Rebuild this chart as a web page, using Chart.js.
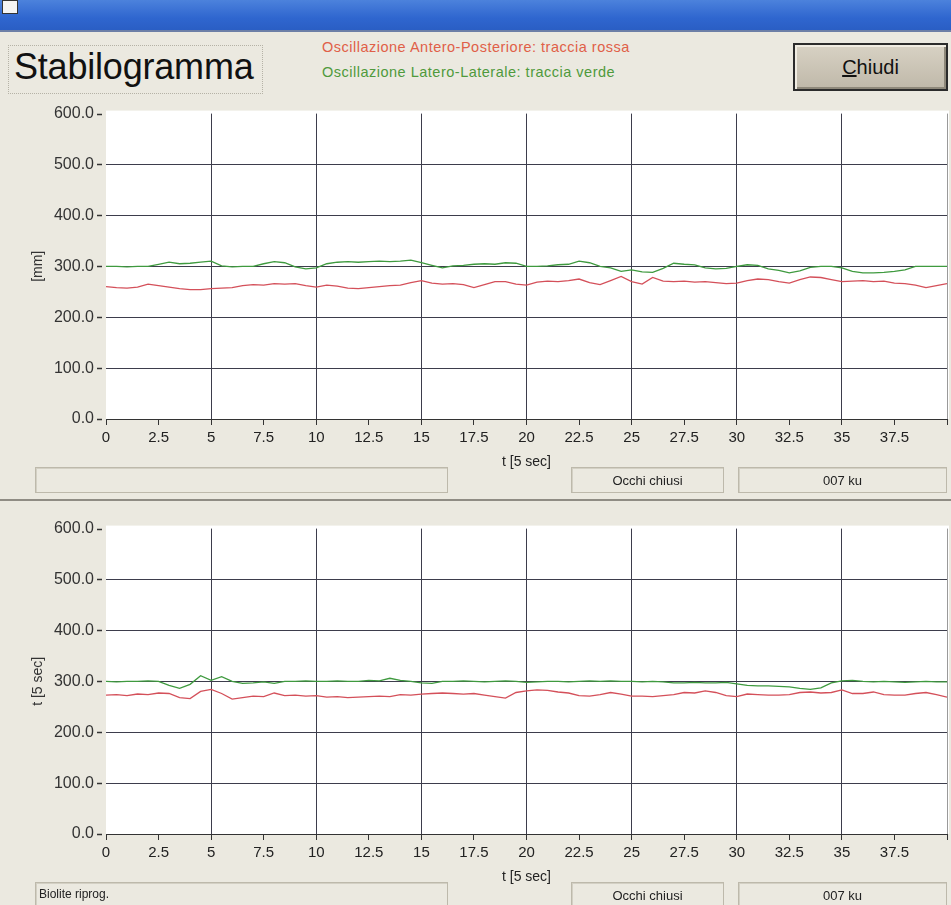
<!DOCTYPE html>
<html>
<head>
<meta charset="utf-8">
<script src="https://cdn.jsdelivr.net/npm/chart.js@4.4.1/dist/chart.umd.min.js"></script>
<style>
  html, body { margin:0; padding:0; }
  body { width:951px; height:905px; position:relative; overflow:hidden;
         background:#ebe9e0; font-family:"Liberation Sans", Arial, sans-serif; }
  .titlebar { position:absolute; left:0; top:0; width:951px; height:30px;
              background:linear-gradient(#4c82dc, #2f66cf 60%, #2a5ec4); border-bottom:2px solid #6d7fa6; }
  .icon { position:absolute; left:2px; top:0; width:14px; height:12px; background:#f4f4f4; border:1px solid #333; }
  .abs { position:absolute; }
  .titlebox { left:8px; top:45px; width:253px; height:47px; border:1px dotted #b5b2a6; }
  .titletext { left:14px; top:46px; font-size:36px; color:#111; letter-spacing:-0.2px; }
  .leg1 { left:322px; top:39px; font-size:14.5px; letter-spacing:0.5px; color:#e06048; }
  .leg2 { left:322px; top:64px; font-size:14.5px; letter-spacing:0.5px; color:#4f9a3c; }
  .btn { left:793px; top:43px; width:151px; height:44px; border:2px solid #2b2b2b;
         background:linear-gradient(#d8d2c4, #bfb8a9); box-shadow: inset 2px 2px 0 #f0ece2, inset -2px -2px 0 #8e887a;
         font-size:20px; color:#111; text-align:center; line-height:44px; }
  .box { border:1px solid #bdb9ab; box-shadow: inset 1px 1px 0 #d3d0c4; font-size:13px; color:#222;
         text-align:center; box-sizing:border-box; }
  .sep { left:0; top:499px; width:951px; height:2px; background:#8f8c84; }
  canvas { position:absolute; }
</style>
</head>
<body>
<div class="titlebar"></div>
<div class="icon"></div>
<div class="abs titlebox"></div>
<div class="abs titletext">Stabilogramma</div>
<div class="abs leg1">Oscillazione Antero-Posteriore: traccia rossa</div>
<div class="abs leg2">Oscillazione Latero-Laterale: traccia verde</div>
<div class="abs btn"><u>C</u>hiudi</div>

<canvas id="c1" width="951" height="382" style="left:0;top:92px;width:951px;height:382px"></canvas>
<canvas id="c2" width="951" height="382" style="left:0;top:507px;width:951px;height:382px"></canvas>

<div class="abs box" style="left:35px;top:467px;width:413px;height:26px;"></div>
<div class="abs box" style="left:571px;top:467px;width:153px;height:26px;line-height:26px;">Occhi chiusi</div>
<div class="abs box" style="left:738px;top:467px;width:209px;height:26px;line-height:26px;">007 ku</div>
<div class="abs sep"></div>
<div class="abs box" style="left:35px;top:882px;width:413px;height:26px;line-height:22px;text-align:left;padding-left:3px;font-size:12px;">Biolite riprog.</div>
<div class="abs box" style="left:571px;top:882px;width:153px;height:26px;line-height:26px;">Occhi chiusi</div>
<div class="abs box" style="left:738px;top:882px;width:209px;height:26px;line-height:26px;">007 ku</div>

<script>
const times = [0,0.5,1,1.5,2,2.5,3,3.5,4,4.5,5,5.5,6,6.5,7,7.5,8,8.5,9,9.5,10,10.5,11,11.5,12,12.5,13,13.5,14,14.5,15,15.5,16,16.5,17,17.5,18,18.5,19,19.5,20,20.5,21,21.5,22,22.5,23,23.5,24,24.5,25,25.5,26,26.5,27,27.5,28,28.5,29,29.5,30,30.5,31,31.5,32,32.5,33,33.5,34,34.5,35,35.5,36,36.5,37,37.5,38,38.5,39,39.5,40];

const topRed = [260,258,257,259,265,262,259,256,254,254,256,257,258,262,264,263,266,265,266,262,259,263,261,257,256,258,260,262,263,268,272,267,265,266,264,258,264,270,270,265,263,269,271,270,272,275,268,264,272,280,270,265,278,271,270,271,269,270,268,266,267,272,275,274,270,267,274,279,278,274,270,271,272,270,271,267,266,263,258,262,266];

const topGreen = [300,300,299,300,300,304,308,305,306,308,310,301,299,300,300,305,309,307,299,295,297,305,308,309,308,309,310,309,310,312,307,302,297,301,302,304,305,304,307,306,300,300,301,303,304,310,307,300,297,290,293,289,288,296,306,304,303,297,295,296,300,303,302,295,292,287,291,298,300,300,297,290,287,287,288,290,293,300,300,300,300];

const bottomRed = [273,274,272,275,274,277,276,268,266,280,284,276,265,268,271,270,277,272,273,271,272,269,270,268,269,270,271,270,274,273,275,276,277,276,275,276,273,270,267,278,281,283,282,279,277,272,271,274,278,275,271,271,270,272,274,278,277,281,278,272,270,275,274,273,273,274,278,279,277,278,283,276,276,279,274,273,273,276,278,274,269];

const bottomGreen = [300,299,300,300,301,300,292,286,294,311,302,309,300,296,297,299,296,300,300,301,300,300,301,300,300,302,301,306,302,300,297,296,300,300,301,300,299,300,301,300,298,299,300,300,299,300,301,300,301,300,300,299,300,299,297,297,298,297,297,298,295,292,291,291,290,289,286,284,287,297,301,302,300,299,300,299,298,299,300,299,299];

const yMin = 0, yMax = 600, yStep = 100;
const xMin = 0, xMax = 40, xStep = 2.5, xGridEvery = 5;

const plotBg = {
  id: 'plotBg',
  beforeDraw(chart) {
    const {ctx, chartArea: a} = chart;
    ctx.save();
    ctx.fillStyle = '#ffffff';
    ctx.fillRect(a.left, a.top - 3, a.right - a.left + 2, a.bottom - a.top + 3);
    ctx.restore();
  }
};

// short dash after each y tick label, positioned through the y scale
const yDashes = {
  id: 'yDashes',
  afterDraw(chart) {
    const s = chart.scales.y, ctx = chart.ctx;
    ctx.save();
    ctx.strokeStyle = '#333';
    ctx.lineWidth = 1.5;
    s.ticks.forEach(t => {
      const y = Math.round(s.getPixelForValue(t.value)) + 0.5;
      ctx.beginPath();
      ctx.moveTo(s.right - 9, y);
      ctx.lineTo(s.right - 4, y);
      ctx.stroke();
    });
    ctx.restore();
  }
};

function makeChart(id, red, green, yTitle) {
  const pts = arr => times.map((t, i) => ({x: t, y: arr[i]}));
  return new Chart(document.getElementById(id), {
    type: 'line',
    data: {
      datasets: [
        { data: pts(red), borderColor: '#d4505a', borderWidth: 1.3, pointRadius: 0, tension: 0 },
        { data: pts(green), borderColor: '#3f9a3f', borderWidth: 1.3, pointRadius: 0, tension: 0 }
      ]
    },
    options: {
      responsive: false,
      animation: false,
      layout: { padding: { top: 13, right: 4, left: 0, bottom: 0 } },
      plugins: { legend: { display: false }, tooltip: { enabled: false } },
      scales: {
        x: {
          type: 'linear', min: xMin, max: xMax,
          afterFit: s => { s.height = 55; },
          ticks: {
            stepSize: xStep, autoSkip: false, maxRotation: 0, padding: 4,
            color: '#222', font: { family: 'Liberation Sans', size: 15 },
            callback: v => (v >= xMax ? '' : String(v))
          },
          grid: {
            drawTicks: true, tickLength: 6, tickColor: '#333', lineWidth: 1,
            color: c => {
              const v = c.tick ? c.tick.value : 0;
              if (v > xMin && v < xMax && Math.abs(v % xGridEvery) < 1e-9) return '#3d3d4c';
              if (v >= xMax) return '#9a9a9a';
              return 'rgba(0,0,0,0)';
            }
          },
          border: { display: true, color: '#333', width: 1 },
          title: { display: true, text: 't [5 sec]', color: '#222',
                   font: { family: 'Liberation Sans', size: 14 }, padding: { top: 0, bottom: 3 } }
        },
        y: {
          min: yMin, max: yMax,
          afterFit: s => { s.width = 106; },
          ticks: {
            stepSize: yStep, padding: 12, color: '#333',
            font: { family: 'Liberation Sans', size: 16 },
            callback: v => v.toFixed(1)
          },
          grid: {
            drawTicks: false, lineWidth: 1,
            color: c => {
              const v = c.tick ? c.tick.value : 0;
              return (v > yMin && v < yMax) ? '#3d3d4c' : 'rgba(0,0,0,0)';
            }
          },
          border: { display: false },
          title: { display: true, text: yTitle, color: '#333',
                   font: { family: 'Liberation Sans', size: 14 }, padding: { top: 30, bottom: 0 } }
        }
      }
    },
    plugins: [plotBg, yDashes]
  });
}

makeChart('c1', topRed, topGreen, '[mm]');
makeChart('c2', bottomRed, bottomGreen, 't [5 sec]');
</script>
</body>
</html>
